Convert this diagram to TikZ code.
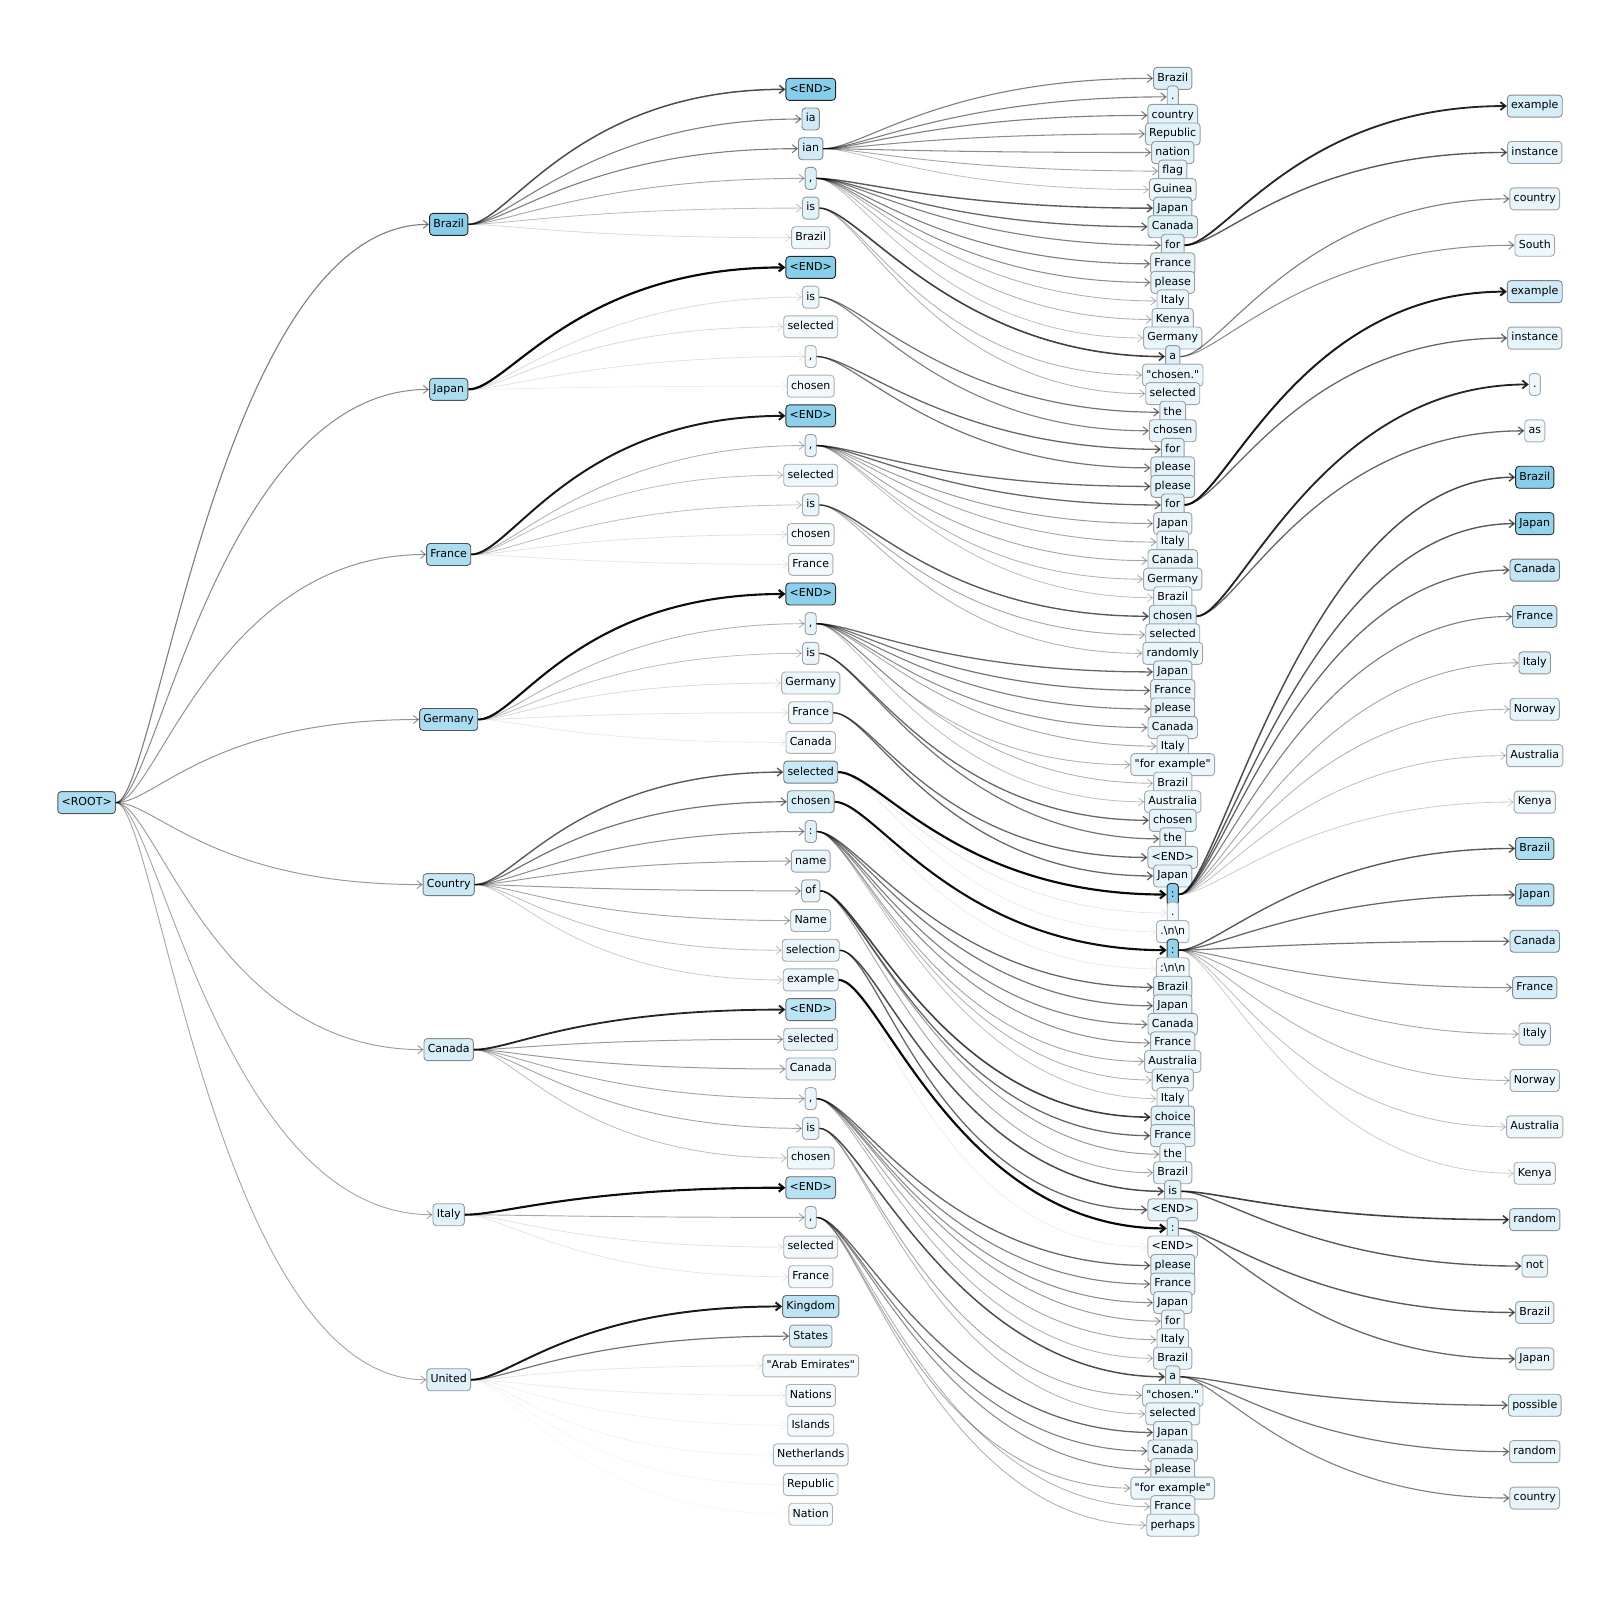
\documentclass[tikz,border=0pt]{standalone}
\usepackage{fontspec}
\setmainfont{DejaVu Sans}[Ligatures=TeXOff]
\usetikzlibrary{arrows.meta}
\definecolor{sky}{HTML}{87CEEB}
\colorlet{bdlo}{black!25!white}
\colorlet{bdhi}{black!85!white}
\def\nn{\textbackslash n}
\def\cma{,}
\tikzset{
 nd/.style={draw=bdhi!#1!bdlo, fill=sky!#1!white, line width=0.9pt, rounded corners=3.5pt,
   inner xsep=3.8pt, inner ysep=2pt, minimum height=22pt, text height=8.2pt, text depth=2.4pt,
   font=\fontsize{11pt}{13pt}\selectfont},
 ed/.style={draw=black, draw opacity=#1, line width={0.75pt+1.5pt*#1*#1}, out=0, in=180,
   out distance=40pt, in distance=210pt, -{Straight Barb[length=5pt,width=8pt]}},
}
\begin{document}
\begin{tikzpicture}[x=1.0198pt, y=-1.0198pt]
\useasboundingbox (0,0) rectangle (1568,1568);
\node[nd=70] (r) at (85,787) {<ROOT>};
\foreach \lab/\v [count=\i from 0] in {Brazil/100, Japan/70, France/70, Germany/70, Country/45, Canada/35, Italy/25, United/28}
  \node[nd=\v] (a\i) at (440,{220+161.86*\i}) {\lab};
\foreach \lab/\v [count=\i from 0] in {<END>/100, ia/40, ian/40, \cma/30, is/25, Brazil/15,
  <END>/100, is/15, selected/12, \cma/12, chosen/10,
  <END>/95, \cma/22, selected/15, is/18, chosen/12, France/12,
  <END>/95, \cma/22, is/18, Germany/15, France/15, Canada/10,
  selected/45, chosen/35, :/25, name/20, of/20, Name/18, selection/18, example/15,
  <END>/55, selected/20, Canada/20, \cma/18, is/18, chosen/15,
  <END>/60, \cma/20, selected/12, France/12,
  Kingdom/55, States/30, "Arab Emirates"/12, Nations/12, Islands/10, Netherlands/10, Republic/10, Nation/10}
  \node[nd=\v] (b\i) at (795,{87.6+29.11*\i}) {\lab};
\foreach \lab/\v [count=\i from 0] in {Brazil/30, ./25, country/25, Republic/25, nation/25, flag/22, Guinea/18,
  Japan/30, Canada/28, for/25, France/22, please/22, Italy/18, Kenya/18, Germany/18,
  a/30, "chosen."/18, selected/18, the/22, chosen/22, for/25, please/22,
  please/25, for/25, Japan/20, Italy/20, Canada/20, Germany/18, Brazil/15,
  chosen/25, selected/18, randomly/18,
  Japan/22, France/22, please/22, Canada/20, Italy/18, "for example"/18, Brazil/15, Australia/15,
  chosen/22, the/22, <END>/22, Japan/22,
  :/100, ./12, .\nn\nn/12, :/90, :\nn\nn/12,
  Brazil/25, Japan/22, Canada/22, France/20, Australia/18, Kenya/18, Italy/15,
  choice/25, France/22, the/18, Brazil/18, is/25, <END>/22, :/30, <END>/12,
  please/25, France/22, Japan/20, for/18, Italy/18, Brazil/18,
  a/25, "chosen."/18, selected/18,
  Japan/22, Canada/20, please/20, "for example"/18, France/18, perhaps/18}
  \node[nd=\v] (c\i) at (1150,{76.8+18.19*\i}) {\lab};
\foreach \lab/\v [count=\i from 0] in {example/35, instance/22, country/20, South/15, example/40, instance/22, ./15, as/12,
  Brazil/100, Japan/90, Canada/50, France/45, Italy/30, Norway/22, Australia/18, Kenya/15,
  Brazil/70, Japan/60, Canada/40, France/35, Italy/22, Norway/18, Australia/15, Kenya/12,
  random/30, not/20, Brazil/20, Japan/20, possible/25, random/20, country/20}
  \node[nd=\v] (d\i) at (1505,{104+45.5*\i}) {\lab};
% edges
\foreach \s/\t/\p in {r/a0/0.5, r/a1/0.45, r/a2/0.42, r/a3/0.42, r/a4/0.4, r/a5/0.38, r/a6/0.35, r/a7/0.35,
  a0/b0/0.7, a0/b1/0.5, a0/b2/0.5, a0/b3/0.35, a0/b4/0.25, a0/b5/0.15,
  a1/b6/0.97, a1/b7/0.15, a1/b8/0.15, a1/b9/0.12, a1/b10/0.07,
  a2/b11/0.9, a2/b12/0.3, a2/b13/0.25, a2/b14/0.25, a2/b15/0.12, a2/b16/0.1,
  a3/b17/0.95, a3/b18/0.3, a3/b19/0.25, a3/b20/0.15, a3/b21/0.12, a3/b22/0.08,
  a4/b23/0.65, a4/b24/0.55, a4/b25/0.45, a4/b26/0.4, a4/b27/0.4, a4/b28/0.35, a4/b29/0.25, a4/b30/0.2,
  a5/b31/0.85, a5/b32/0.4, a5/b33/0.4, a5/b34/0.35, a5/b35/0.35, a5/b36/0.25,
  a6/b37/0.95, a6/b38/0.35, a6/b39/0.12, a6/b40/0.1,
  a7/b41/0.9, a7/b42/0.55, a7/b43/0.1, a7/b44/0.08, a7/b45/0.06, a7/b46/0.05, a7/b47/0.04, a7/b48/0.03}
  \draw[ed=\p] (\s.east) to (\t.west);
\foreach \s/\t/\p in {b2/c0/0.5, b2/c1/0.5, b2/c2/0.5, b2/c3/0.45, b2/c4/0.45, b2/c5/0.35, b2/c6/0.25,
  b3/c7/0.65, b3/c8/0.6, b3/c9/0.5, b3/c10/0.5, b3/c11/0.45, b3/c12/0.3, b3/c13/0.3, b3/c14/0.25,
  b4/c15/0.75, b4/c16/0.3, b4/c17/0.3,
  b7/c18/0.55, b7/c19/0.5,
  b9/c20/0.6, b9/c21/0.55,
  b12/c22/0.6, b12/c23/0.6, b12/c24/0.4, b12/c25/0.35, b12/c26/0.35, b12/c27/0.3, b12/c28/0.25,
  b14/c29/0.65, b14/c30/0.35, b14/c31/0.3,
  b18/c32/0.6, b18/c33/0.55, b18/c34/0.5, b18/c35/0.45, b18/c36/0.35, b18/c37/0.3, b18/c38/0.3, b18/c39/0.25,
  b19/c40/0.6, b19/c41/0.55,
  b21/c42/0.6, b21/c43/0.6,
  b23/c44/0.97, b23/c45/0.1, b23/c46/0.07,
  b24/c47/0.95, b24/c48/0.08,
  b25/c49/0.6, b25/c50/0.55, b25/c51/0.5, b25/c52/0.45, b25/c53/0.35, b25/c54/0.3, b25/c55/0.25,
  b27/c56/0.75, b27/c57/0.6, b27/c58/0.4, b27/c59/0.35,
  b29/c60/0.7, b29/c61/0.6,
  b30/c62/0.97, b30/c63/0.07,
  b34/c64/0.6, b34/c65/0.5, b34/c66/0.45, b34/c67/0.4, b34/c68/0.35, b34/c69/0.3,
  b35/c70/0.7, b35/c71/0.35, b35/c72/0.3,
  b38/c73/0.6, b38/c74/0.5, b38/c75/0.45, b38/c76/0.35, b38/c77/0.3, b38/c78/0.3}
  \draw[ed=\p] (\s.east) to (\t.west);
\foreach \s/\t/\p in {c9/d0/0.85, c9/d1/0.65, c15/d2/0.5, c15/d3/0.45, c23/d4/0.9, c23/d5/0.6, c29/d6/0.85, c29/d7/0.6,
  c44/d8/0.7, c44/d9/0.65, c44/d10/0.6, c44/d11/0.5, c44/d12/0.35, c44/d13/0.3, c44/d14/0.25, c44/d15/0.2,
  c47/d16/0.65, c47/d17/0.6, c47/d18/0.55, c47/d19/0.45, c47/d20/0.35, c47/d21/0.3, c47/d22/0.25, c47/d23/0.2,
  c60/d24/0.75, c60/d25/0.65, c62/d26/0.65, c62/d27/0.6, c70/d28/0.6, c70/d29/0.55, c70/d30/0.5}
  \draw[ed=\p] (\s.east) to (\t.west);
\end{tikzpicture}
\end{document}
